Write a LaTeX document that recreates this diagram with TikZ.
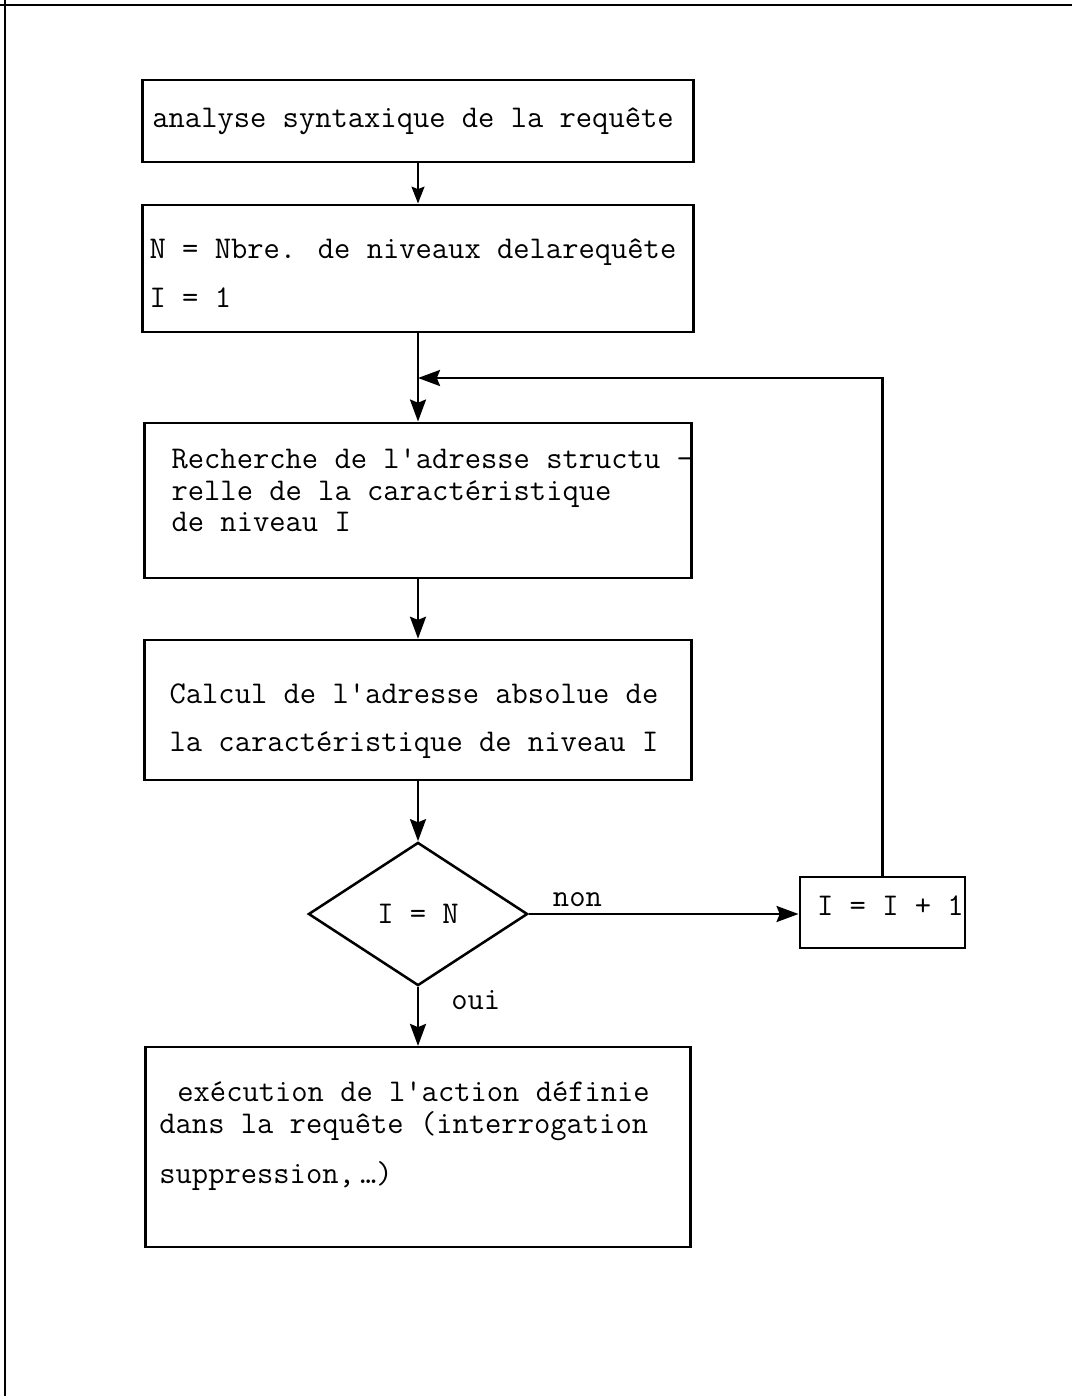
\documentclass[tikz,border=0pt]{standalone}
\usepackage{fontspec}
\usepackage{tikz}
\usetikzlibrary{
    arrows.meta,
    positioning,
    shapes.geometric
}

\begin{document}
\begin{tikzpicture}[
        >={Stealth[length=0.55cm, width=0.4cm, inset=0.08cm]},
        line width=1.8pt,
        box/.style={
            draw,
            rectangle,
            inner sep=0pt
        },
        decision/.style={
            draw,
            diamond,
            inner sep=0pt,
            minimum width=5.48cm,
            minimum height=3.58cm,
            font=\ttfamily\fontsize{22.5}{22.4}\selectfont
        },
        txt/.style={
            font=\ttfamily\fontsize{22.5}{22.4}\selectfont,
            align=left,
            inner sep=0pt
        }
    ]
        \useasboundingbox (0,0) rectangle (26.8,-34.9);

        % page frame
        \draw (0,-0.125) -- (26.8,-0.125);
        \draw (0.125,0) -- (0.125,-34.9);

        % main column
        \node[box, minimum width=13.78cm, minimum height=2.05cm] (parse) at (10.45,-3.03) {};
        \node[txt, right=0.25cm of parse.west] (parsetxt) {analyse syntaxique de la requête};

        \node[box, minimum width=13.78cm, minimum height=3.18cm] (init) at (10.45,-6.71) {};
        \node[txt, right=0.18cm of init.west, yshift=-0.12cm] (inittxt)
            {N = Nbre. de niveaux delarequête\\[0.44cm]I = 1};

        \node[box, minimum width=13.68cm, minimum height=3.88cm] (search) at (10.45,-12.51) {};
        \node[txt, right=0.68cm of search.west, yshift=0.25cm] (searchtxt)
            {Recherche de l'adresse structu -\\relle de la caractéristique\\de niveau I};

        \node[box, minimum width=13.68cm, minimum height=3.5cm] (calc) at (10.45,-17.75) {};
        \node[txt, right=0.63cm of calc.west, yshift=-0.28cm] (calctxt)
            {Calcul de l'adresse absolue de\\[0.41cm]la caractéristique de niveau I};

        \node[decision] (test) at (10.45,-22.85) {I = N};

        \node[box, minimum width=4.13cm, minimum height=1.78cm] (incr) at (22.06,-22.81) {};
        \node[txt, yshift=0.18cm, xshift=0.2cm] (incrtxt) at (incr) {I = I + 1};

        \node[box, minimum width=13.63cm, minimum height=5.0cm] (exec) at (10.45,-28.68) {};
        \node[txt, right=0.35cm of exec.west, yshift=0.28cm] (exectxt)
            {\hspace*{0.45cm}exécution de l'action définie\\dans la requête (interrogation\\[0.46cm]suppression,\,\dots)};

        % connectors
        \coordinate (loopin) at (10.45,-9.45);
        \draw[->, >={Stealth[length=0.42cm, width=0.32cm, inset=0.06cm]}] (parse) -- (init);
        \draw[->] (init) -- (search);
        \draw[->] (incr) |- (loopin);
        \draw[->] (search) -- (calc);
        \draw[->] (calc) -- (test);
        \draw[->] (test.east) --
            node[txt, pos=0.18, above=0.15cm] (nonlbl) {non}
            (test.east -| incr.west);
        \draw[->] (test) --
            node[txt, pos=0.22, right=0.8cm] (ouilbl) {oui}
            (exec);
    \end{tikzpicture}
\end{document}
